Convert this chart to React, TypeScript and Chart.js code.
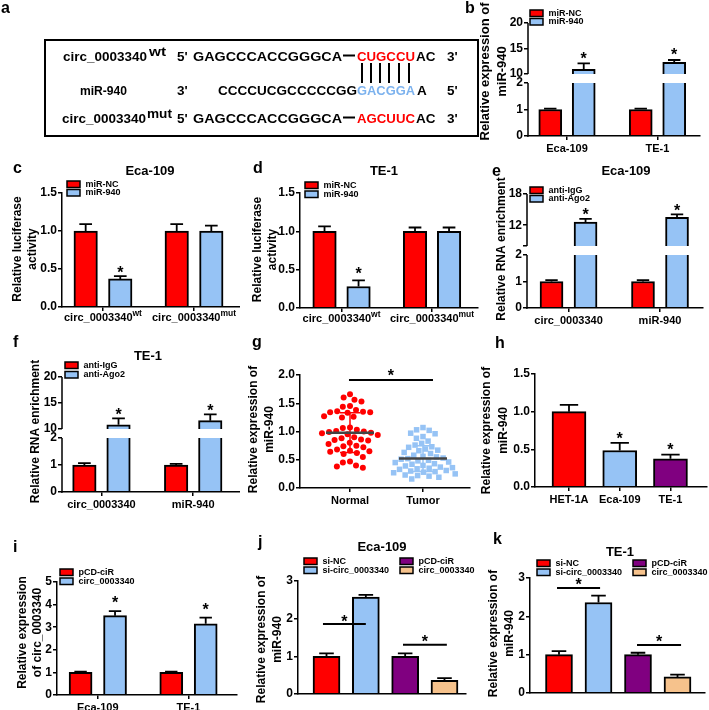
import React, { useEffect, useRef } from 'react';
import { Chart, registerables } from 'chart.js';
Chart.register(...registerables);

const FONT = '"Liberation Sans", Arial, Helvetica, sans-serif';
Chart.defaults.font.family = FONT;
Chart.defaults.color = '#000';

const RED = '#ff0000';
const BLUE = '#96c3f5';
const PURPLE = '#800080';
const TAN = '#f6c28c';
const SEQ_BLUE = '#7cb2ee';

// ---------------- data ----------------
// b
const bCats = ['Eca-109', 'TE-1'];
const bGroups = ['miR-NC', 'miR-940'];
const bNC = [1.0, 1.0];
const bNCErr = [0.03, 0.03];
const bMiR = [10.9, 12.3];
const bMiRErr = [1.2, 0.45];
// c
const cCats = ['circ_0003340', 'circ_0003340'];
const cSup = ['wt', 'mut'];
const cNC = [1.0, 1.0];
const cNCErr = [0.09, 0.09];
const cMiR = [0.37, 1.0];
const cMiRErr = [0.035, 0.07];
// d
const dNC = [1.0, 1.0];
const dNCErr = [0.065, 0.05];
const dMiR = [0.28, 1.0];
const dMiRErr = [0.08, 0.05];
// e
const eCats = ['circ_0003340', 'miR-940'];
const eGroups = ['anti-IgG', 'anti-Ago2'];
const eIgG = [1.0, 1.0];
const eIgGErr = [0.05, 0.05];
const eAgo = [12.6, 13.5];
const eAgoErr = [0.6, 0.6];
// f
const fIgG = [1.0, 1.0];
const fIgGErr = [0.07, 0.04];
const fAgo = [10.8, 11.6];
const fAgoErr = [1.25, 1.2];
// g
const gCats = ['Normal', 'Tumor'];
const gNormal = [1.66, 1.6, 1.56, 1.53, 1.45, 1.44, 1.38, 1.36, 1.35, 1.34, 1.34, 1.33, 1.27, 1.26, 1.25, 1.07, 1.06, 1.03, 1.01, 1.0, 0.99, 0.98, 0.97, 0.95, 0.94, 0.9, 0.88, 0.86, 0.85, 0.84, 0.8, 0.78, 0.75, 0.74, 0.72, 0.68, 0.66, 0.65, 0.64, 0.62, 0.6, 0.55, 0.47, 0.45, 0.4, 0.38, 0.36];
const gTumor = [1.07, 1.03, 1.02, 0.97, 0.96, 0.91, 0.88, 0.83, 0.79, 0.76, 0.73, 0.72, 0.69, 0.67, 0.66, 0.63, 0.61, 0.58, 0.56, 0.55, 0.53, 0.52, 0.51, 0.49, 0.48, 0.46, 0.45, 0.43, 0.42, 0.4, 0.39, 0.37, 0.36, 0.35, 0.34, 0.33, 0.31, 0.3, 0.29, 0.28, 0.27, 0.25, 0.23, 0.22, 0.21, 0.19, 0.16];
const gMean = [0.98, 0.52];
const gSD = [0.35, 0.23];
// h
const hCats = ['HET-1A', 'Eca-109', 'TE-1'];
const hVals = [1.0, 0.485, 0.375];
const hErr = [0.09, 0.1, 0.055];
// i
const iCats = ['Eca-109', 'TE-1'];
const iGroups = ['pCD-ciR', 'circ_0003340'];
const iCtrl = [1.0, 1.0];
const iCtrlErr = [0.03, 0.03];
const iOE = [3.51, 3.15];
const iOEErr = [0.2, 0.27];
// j, k
const jkGroups = ['si-NC', 'si-circ_0003340', 'pCD-ciR', 'circ_0003340'];
const jkColors = [RED, BLUE, PURPLE, TAN];
const jVals = [1.0, 2.57, 1.0, 0.36];
const jErr = [0.08, 0.06, 0.08, 0.06];
const kVals = [1.0, 2.36, 1.0, 0.42];
const kErr = [0.09, 0.18, 0.05, 0.06];

// ---------------- helpers ----------------
function makeT(y: any) {
  if (y.brk) {
    const b = y.brk;
    const ppu = b.lowPx / b.lowMax;
    const gap = b.gapPx / ppu;
    const k = b.upPx / (b.upMax - b.upMin) / ppu;
    const fwd = (v: number) =>
      v <= b.lowMax ? v : v < b.upMin ? b.lowMax + (gap * (v - b.lowMax)) / (b.upMin - b.lowMax) : b.lowMax + gap + (v - b.upMin) * k;
    const ticks = y.ticks;
    return { brk: b, fwd, max: fwd(b.upMax), ticks, label: (v: number) => { const t = ticks.find((t: any) => Math.abs(fwd(t[0]) - v) < 1e-6); return t ? t[1] : ''; } };
  }
  const ticks: any[] = [];
  const n = Math.round((y.max - y.min) / y.step);
  for (let i = 0; i <= n; i++) { const v = y.min + i * y.step; ticks.push([v, v.toFixed(y.dec)]); }
  return { brk: null, fwd: (v: number) => v, max: y.max, ticks, label: (v: number) => { const t = ticks.find((t: any) => Math.abs(t[0] - v) < 1e-6); return t ? t[1] : ''; } };
}

function swarm(els: any[], D: number) {
  if (!els.length) return;
  const base = els[0].x;
  const order = els.map((_: any, i: number) => i).sort((a: number, b: number) => els[a].y - els[b].y);
  const placed: { dx: number; y: number }[] = [];
  for (const i of order) {
    const y = els[i].y;
    const iv: [number, number][] = [];
    for (const p of placed) {
      const dy = Math.abs(p.y - y);
      if (dy < D) { const h = Math.sqrt(D * D - dy * dy); iv.push([p.dx - h, p.dx + h]); }
    }
    const cands = [0];
    iv.forEach(([a, b]) => cands.push(a, b));
    cands.sort((a, b) => Math.abs(a) - Math.abs(b) || a - b);
    let dx = 0;
    for (const c of cands) { if (!iv.some(([a, b]) => c > a + 1e-6 && c < b - 1e-6)) { dx = c; break; } }
    placed.push({ dx, y });
    els[i].x = base + dx;
  }
}

const bold = (sz: number) => `bold ${sz}px ${FONT}`;

function drawStar(ctx: any, x: number, cy: number) {
  ctx.font = bold(16);
  ctx.textAlign = 'center';
  ctx.textBaseline = 'alphabetic';
  ctx.fillStyle = '#000';
  ctx.fillText('*', x, cy + 9.3);
}

function decor(s: any, T: any) {
  const [cl, ct] = s.rect;
  return {
    id: 'decor',
    afterDatasetsUpdate(chart: any) {
      chart.data.datasets.forEach((ds: any, di: number) => { if (ds.swarm) swarm(chart.getDatasetMeta(di).data, ds.swarm); });
    },
    afterDatasetsDraw(chart: any) {
      const ctx = chart.ctx, ca = chart.chartArea, ys = chart.scales.y, xs = chart.scales.x;
      ctx.save();
      if (T.brk) {
        const yLow = ys.getPixelForValue(T.brk.lowMax);
        const yUp = ys.getPixelForValue(T.fwd(T.brk.upMin));
        ctx.fillStyle = '#fff';
        ctx.fillRect(ca.left + 1, yUp, ca.right - ca.left, yLow - yUp);
      }
      chart.data.datasets.forEach((ds: any, di: number) => {
        const els = chart.getDatasetMeta(di).data;
        if (ds.errors) {
          els.forEach((el: any, i: number) => {
            const top = ys.getPixelForValue(T.fwd(ds.raw[i] + ds.errors[i]));
            const hw = s.barPx * 0.27;
            ctx.strokeStyle = '#000';
            ctx.lineWidth = 1.8;
            ctx.beginPath();
            ctx.moveTo(el.x, el.y); ctx.lineTo(el.x, top);
            ctx.moveTo(el.x - hw, top); ctx.lineTo(el.x + hw, top);
            ctx.stroke();
            if (ds.stars.includes(i)) drawStar(ctx, el.x, top - s.starGap);
          });
        }
        if (ds.mean !== undefined) {
          const cx = xs.getPixelForValue(di);
          const m = ys.getPixelForValue(ds.mean), a = ys.getPixelForValue(ds.mean + ds.sd), b = ys.getPixelForValue(ds.mean - ds.sd);
          ctx.strokeStyle = ds.gcolor; ctx.lineWidth = 1.5;
          ctx.beginPath();
          ctx.moveTo(cx, a); ctx.lineTo(cx, b);
          ctx.moveTo(cx - 10, a); ctx.lineTo(cx + 10, a);
          ctx.moveTo(cx - 10, b); ctx.lineTo(cx + 10, b);
          ctx.stroke();
          ctx.strokeStyle = '#444'; ctx.lineWidth = 2.5;
          ctx.beginPath(); ctx.moveTo(cx - 24, m); ctx.lineTo(cx + 24, m); ctx.stroke();
        }
      });
      ctx.restore();
    },
    afterDraw(chart: any) {
      const ctx = chart.ctx, ca = chart.chartArea, ys = chart.scales.y, xs = chart.scales.x;
      ctx.save();
      ctx.strokeStyle = '#000'; ctx.fillStyle = '#000';
      if (T.brk) {
        ctx.lineWidth = 1.5;
        ctx.beginPath();
        ctx.moveTo(ca.left, ca.bottom + 0.75); ctx.lineTo(ca.left, ys.getPixelForValue(T.brk.lowMax));
        ctx.moveTo(ca.left, ys.getPixelForValue(T.fwd(T.brk.upMin))); ctx.lineTo(ca.left, ca.top);
        ctx.stroke();
      }
      const cy = (ca.top + ca.bottom) / 2 + (s.yTitleDy || 0);
      ctx.font = bold(s.yTitleSize || 12);
      ctx.textAlign = 'center'; ctx.textBaseline = 'middle';
      s.yTitle.forEach((line: string, k: number) => {
        ctx.save(); ctx.translate(s.yTitleX[k] - cl, cy); ctx.rotate(-Math.PI / 2); ctx.fillText(line, 0, 0); ctx.restore();
      });
      if (s.title) { ctx.font = bold(13); ctx.fillText(s.title[0], s.title[1] - cl, s.title[2] - ct); }
      (s.legends || []).forEach((L: any) => {
        L.items.forEach((it: any, j: number) => {
          const x = L.x - cl, y = L.y + j * L.rowH - ct;
          ctx.fillStyle = it[1]; ctx.fillRect(x, y, 13, 6.5);
          ctx.strokeStyle = '#000'; ctx.lineWidth = 1.5; ctx.strokeRect(x, y, 13, 6.5);
          ctx.fillStyle = '#000'; ctx.font = bold(9); ctx.textAlign = 'left'; ctx.textBaseline = 'middle';
          ctx.fillText(it[0], x + 18.5, y + 3.5);
        });
      });
      if (s.sup) {
        s.cats.forEach((c: string, i: number) => {
          const px = xs.getPixelForValue(i);
          ctx.font = bold(11); const w1 = ctx.measureText(c).width;
          ctx.font = bold(8.5); const w2 = ctx.measureText(s.sup[i]).width;
          const x = px - (w1 + w2) / 2, y = ca.bottom + 11;
          ctx.textAlign = 'left'; ctx.textBaseline = 'middle'; ctx.fillStyle = '#000';
          ctx.font = bold(11); ctx.fillText(c, x, y);
          ctx.font = bold(8.5); ctx.fillText(s.sup[i], x + w1, y - 4);
        });
      }
      (s.sig || []).forEach((g: any) => {
        const x0 = xs.getPixelForValue(g.x0), x1 = xs.getPixelForValue(g.x1), y = ys.getPixelForValue(T.fwd(g.y));
        ctx.strokeStyle = '#000'; ctx.lineWidth = 2;
        ctx.beginPath(); ctx.moveTo(x0, y); ctx.lineTo(x1, y); ctx.stroke();
        drawStar(ctx, (x0 + x1) / 2, y - (g.gap || 7));
      });
      ctx.restore();
    },
  };
}

function buildConfig(s: any) {
  const T = makeT(s.y);
  const [cl, ct, cw, ch] = s.rect;
  const [ax0, ay0, ax1, ay1] = s.area;
  const datasets: any[] = [];
  (s.bars || []).forEach((b: any) =>
    datasets.push({
      type: 'bar', label: b.label,
      data: b.values.map((v: number, i: number) => ({ x: i + b.off, y: T.fwd(v) })),
      backgroundColor: b.color, borderColor: '#000', borderWidth: 2, borderSkipped: 'start',
      barThickness: s.barPx, grouped: false,
      raw: b.values, errors: b.errors, stars: b.stars || [],
    })
  );
  (s.scatter || []).forEach((g: any, gi: number) =>
    datasets.push({
      type: 'scatter', label: g.label,
      data: g.values.map((v: number) => ({ x: gi, y: v })),
      pointStyle: g.style, pointRadius: g.r, backgroundColor: g.color, borderWidth: 0,
      swarm: g.D, mean: g.mean, sd: g.sd, gcolor: g.color,
    })
  );
  const grid = { display: true, drawOnChartArea: false, drawTicks: true, tickLength: 4, color: '#000', lineWidth: 1.5, offset: false };
  return {
    type: s.scatter ? 'scatter' : 'bar',
    data: { datasets },
    options: {
      responsive: false, animation: false, events: [],
      layout: { padding: { left: 0, top: ay0 - ct, right: cl + cw - ax1, bottom: 0 } },
      plugins: { legend: { display: false }, tooltip: { enabled: false }, title: { display: false } },
      scales: {
        x: {
          type: 'linear', min: s.xr[0], max: s.xr[1], offset: false,
          afterBuildTicks: (sc: any) => { sc.ticks = s.cats.map((_: any, i: number) => ({ value: i })); },
          afterFit: (sc: any) => { sc.height = ct + ch - ay1; },
          ticks: {
            display: s.cats.length > 0 && !s.sup, autoSkip: false, maxRotation: 0, minRotation: 0, padding: 2,
            font: { size: 11, weight: 'bold' }, color: '#000',
            callback: (v: number) => s.cats[Math.round(v)] ?? '',
          },
          grid: { ...grid, drawTicks: s.cats.length > 0 },
          border: { display: true, color: '#000', width: 1.5, z: 1 },
        },
        y: {
          type: 'linear', min: 0, max: T.max,
          afterBuildTicks: (sc: any) => { sc.ticks = T.ticks.map((t: any) => ({ value: T.fwd(t[0]) })); },
          afterFit: (sc: any) => { sc.width = ax0 - cl; },
          ticks: { autoSkip: false, padding: 1, font: { size: 12, weight: 'bold' }, color: '#000', callback: (v: number) => T.label(v) },
          grid,
          border: { display: !T.brk, color: '#000', width: 1.5, z: 1 },
        },
      },
    },
    plugins: [decor(s, T)],
  };
}

// ---------------- panel specs ----------------
const specs: any[] = [
  { // b
    rect: [476, 0, 233, 160], area: [528, 23, 700, 136], xr: [-0.431, 1.47], cats: bCats, barPx: 23,
    bars: [
      { label: bGroups[0], color: RED, values: bNC, errors: bNCErr, stars: [], off: -0.185 },
      { label: bGroups[1], color: BLUE, values: bMiR, errors: bMiRErr, stars: [0, 1], off: 0.185 },
    ],
    y: { brk: { lowMax: 2, upMin: 10, upMax: 20, lowPx: 53, gapPx: 9, upPx: 51 }, ticks: [[0, '0'], [1, '1'], [2, '2'], [10, '10'], [15, '15'], [20, '20']] },
    yTitle: ['Relative expression of', 'miR-940'], yTitleX: [485, 502], yTitleDy: -8, yTitleSize: 13,
    legends: [{ x: 530, y: 10, rowH: 8.5, items: [[bGroups[0], RED], [bGroups[1], BLUE]] }],
    starGap: 9,
  },
  { // c
    rect: [0, 160, 240, 170], area: [62, 193, 240, 307], xr: [-0.45, 1.505], cats: cCats, sup: cSup, barPx: 23.5,
    bars: [
      { label: 'miR-NC', color: RED, values: cNC, errors: cNCErr, stars: [], off: -0.19 },
      { label: 'miR-940', color: BLUE, values: cMiR, errors: cMiRErr, stars: [0], off: 0.19 },
    ],
    y: { min: 0, max: 1.5, step: 0.5, dec: 1 },
    yTitle: ['Relative luciferase', 'activity'], yTitleX: [17.5, 33], yTitleDy: -1,
    title: ['Eca-109', 150, 171],
    legends: [{ x: 67, y: 181, rowH: 8.5, items: [['miR-NC', RED], ['miR-940', BLUE]] }],
    starGap: 8,
  },
  { // d
    rect: [240, 160, 240, 170], area: [300, 193, 478, 308], xr: [-0.459, 1.508], cats: cCats, sup: cSup, barPx: 23.5,
    bars: [
      { label: 'miR-NC', color: RED, values: dNC, errors: dNCErr, stars: [], off: -0.188 },
      { label: 'miR-940', color: BLUE, values: dMiR, errors: dMiRErr, stars: [0], off: 0.188 },
    ],
    y: { min: 0, max: 1.5, step: 0.5, dec: 1 },
    yTitle: ['Relative luciferase', 'activity'], yTitleX: [257.5, 273], yTitleDy: -1,
    title: ['TE-1', 384, 171],
    legends: [{ x: 305, y: 182, rowH: 9, items: [['miR-NC', RED], ['miR-940', BLUE]] }],
    starGap: 11,
  },
  { // e
    rect: [476, 160, 233, 170], area: [527, 194, 703, 308], xr: [-0.454, 1.47], cats: eCats, barPx: 23,
    bars: [
      { label: eGroups[0], color: RED, values: eIgG, errors: eIgGErr, stars: [], off: -0.186 },
      { label: eGroups[1], color: BLUE, values: eAgo, errors: eAgoErr, stars: [0, 1], off: 0.186 },
    ],
    y: { brk: { lowMax: 2, upMin: 8, upMax: 18, lowPx: 53, gapPx: 9, upPx: 52 }, ticks: [[0, '0'], [1, '1'], [2, '2'], [8, ''], [12, '12'], [18, '18']] },
    yTitle: ['Relative RNA enrichment'], yTitleX: [502], yTitleDy: -2,
    title: ['Eca-109', 626, 171],
    legends: [{ x: 530, y: 187, rowH: 8.5, items: [[eGroups[0], RED], [eGroups[1], BLUE]] }],
    starGap: 8,
  },
  { // f
    rect: [0, 345, 240, 175], area: [62, 377, 240, 492], xr: [-0.43, 1.51], cats: eCats, barPx: 23.5,
    bars: [
      { label: eGroups[0], color: RED, values: fIgG, errors: fIgGErr, stars: [], off: -0.186 },
      { label: eGroups[1], color: BLUE, values: fAgo, errors: fAgoErr, stars: [0, 1], off: 0.186 },
    ],
    y: { brk: { lowMax: 2, upMin: 10, upMax: 20, lowPx: 54, gapPx: 9, upPx: 52 }, ticks: [[0, '0'], [1, '1'], [2, '2'], [10, '10'], [15, '15'], [20, '20']] },
    yTitle: ['Relative RNA enrichment'], yTitleX: [36], yTitleDy: -3,
    title: ['TE-1', 148, 356],
    legends: [{ x: 65, y: 362, rowH: 9.5, items: [[eGroups[0], RED], [eGroups[1], BLUE]] }],
    starGap: 8,
  },
  { // g
    rect: [240, 345, 240, 175], area: [300, 375, 470, 488], xr: [-0.685, 1.644], cats: gCats,
    scatter: [
      { label: gCats[0], values: gNormal, color: RED, style: 'circle', r: 3, D: 7.2, mean: gMean[0], sd: gSD[0] },
      { label: gCats[1], values: gTumor, color: BLUE, style: 'rect', r: 3.9, D: 6.8, mean: gMean[1], sd: gSD[1] },
    ],
    y: { min: 0, max: 2, step: 0.5, dec: 1 },
    yTitle: ['Relative expression of', 'miR-940'], yTitleX: [254, 270], yTitleDy: -2,
    sig: [{ x0: -0.014, x1: 1.137, y: 1.91, gap: 8 }],
  },
  { // h
    rect: [476, 345, 233, 175], area: [535, 374, 707, 487], xr: [-0.67, 2.72], cats: hCats, barPx: 34,
    bars: [{ label: 'miR-940', color: [RED, BLUE, PURPLE], values: hVals, errors: hErr, stars: [1, 2], off: 0 }],
    y: { min: 0, max: 1.5, step: 0.5, dec: 1 },
    yTitle: ['Relative expression of', 'miR-940'], yTitleX: [487, 504], yTitleDy: 0,
    starGap: 8.5,
  },
  { // i
    rect: [0, 545, 240, 165], area: [57, 582, 237, 695], xr: [-0.45, 1.535], cats: iCats, barPx: 23,
    bars: [
      { label: iGroups[0], color: RED, values: iCtrl, errors: iCtrlErr, stars: [], off: -0.19 },
      { label: iGroups[1], color: BLUE, values: iOE, errors: iOEErr, stars: [0, 1], off: 0.19 },
    ],
    y: { min: 0, max: 5, step: 1, dec: 0 },
    yTitle: ['Relative expression', 'of circ_0003340'], yTitleX: [23, 38], yTitleDy: -6,
    legends: [{ x: 60, y: 569, rowH: 9, items: [[iGroups[0], RED], [iGroups[1], BLUE]] }],
    starGap: 12,
  },
  { // j
    rect: [240, 540, 240, 170], area: [298, 581, 466, 694], xr: [-0.725, 3.547], cats: [], barPx: 27,
    bars: [{ label: 'miR-940', color: jkColors, values: jVals, errors: jErr, stars: [], off: 0 }],
    y: { min: 0, max: 3, step: 1, dec: 0 },
    yTitle: ['Relative expression of', 'miR-940'], yTitleX: [262, 278], yTitleDy: 2,
    title: ['Eca-109', 382, 547],
    legends: [
      { x: 304, y: 558, rowH: 9, items: [[jkGroups[0], jkColors[0]], [jkGroups[1], jkColors[1]]] },
      { x: 400, y: 558, rowH: 9, items: [[jkGroups[2], jkColors[2]], [jkGroups[3], jkColors[3]]] },
    ],
    sig: [{ x0: -0.09, x1: 1.0, y: 1.86, gap: 6 }, { x0: 1.945, x1: 3.06, y: 1.31, gap: 7 }],
  },
  { // k
    rect: [476, 540, 233, 170], area: [530, 578, 705, 693], xr: [-0.734, 3.696], cats: [], barPx: 27,
    bars: [{ label: 'miR-940', color: jkColors, values: kVals, errors: kErr, stars: [], off: 0 }],
    y: { min: 0, max: 3, step: 1, dec: 0 },
    yTitle: ['Relative expression of', 'miR-940'], yTitleX: [494, 510], yTitleDy: -2,
    title: ['TE-1', 620, 552],
    legends: [
      { x: 537, y: 560, rowH: 9, items: [[jkGroups[0], jkColors[0]], [jkGroups[1], jkColors[1]]] },
      { x: 633, y: 560, rowH: 9, items: [[jkGroups[2], jkColors[2]], [jkGroups[3], jkColors[3]]] },
    ],
    sig: [{ x0: -0.05, x1: 1.04, y: 2.74, gap: 7 }, { x0: 1.975, x1: 3.09, y: 1.25, gap: 7 }],
  },
];

function Panel({ spec }: { spec: any }) {
  const ref = useRef<HTMLCanvasElement>(null);
  useEffect(() => {
    const chart = new Chart(ref.current as any, buildConfig(spec) as any);
    return () => chart.destroy();
  }, [spec]);
  const [l, t, w, h] = spec.rect;
  return (
    <div style={{ position: 'absolute', left: l, top: t, width: w, height: h }}>
      <canvas ref={ref} width={w} height={h} style={{ display: 'block', width: w, height: h }} />
    </div>
  );
}

const letters: [string, number, number][] = [
  ['a', 1, 13], ['b', 465, 13], ['c', 13, 173], ['d', 253, 173], ['e', 492, 176], ['f', 13, 347],
  ['g', 252, 347], ['h', 495, 348], ['i', 13, 552], ['j', 258, 547], ['k', 493, 544],
];

function Overlay() {
  const fs = 13.5;
  const T = (x: number, y: number, str: string, len?: number, fill = '#000') => (
    <text x={x} y={y} fill={fill} fontSize={fs} {...(len ? { textLength: len, lengthAdjust: 'spacingAndGlyphs' } : {})}>{str}</text>
  );
  const bonds = [362, 371, 380, 389, 399, 409];
  return (
    <svg width={709} height={710} style={{ position: 'absolute', left: 0, top: 0, pointerEvents: 'none' }} fontFamily={FONT} fontWeight="bold">
      {letters.map(([l, x, y]) => <text key={l} x={x} y={y} fontSize={16}>{l}</text>)}
      <rect x={45} y={40} width={433} height={96} fill="none" stroke="#000" strokeWidth={2} />
      {/* row 1 */}
      {T(63, 61, 'circ_0003340', 84)}
      {T(149, 56, 'wt', 17)}
      {T(177, 61, "5'")}
      {T(193, 61, 'GAGCCCACCGGGCA', 149)}
      <line x1={343} y1={55.5} x2={355} y2={55.5} stroke="#000" strokeWidth={2} />
      {T(357, 61, 'CUGCCU', 58, RED)}
      {T(416, 61, 'AC')}
      {T(447, 61, "3'")}
      {bonds.map((x) => <line key={x} x1={x} y1={63} x2={x} y2={83} stroke="#000" strokeWidth={2} />)}
      {/* row 2 */}
      {T(80, 95, 'miR-940', 47)}
      {T(177, 95, "3'")}
      {T(218, 95, 'CCCCUCGCCCCCGG', 139)}
      {T(357, 95, 'GACGGA', 58, SEQ_BLUE)}
      {T(417, 95, 'A')}
      {T(447, 95, "5'")}
      {/* row 3 */}
      {T(62, 123, 'circ_0003340', 84)}
      {T(147, 118, 'mut', 25)}
      {T(177, 123, "5'")}
      {T(193, 123, 'GAGCCCACCGGGCA', 149)}
      <line x1={343} y1={117.5} x2={355} y2={117.5} stroke="#000" strokeWidth={2} />
      {T(357, 123, 'AGCUUC', 58, RED)}
      {T(416, 123, 'AC')}
      {T(447, 123, "3'")}
    </svg>
  );
}

export default function App() {
  return (
    <div style={{ position: 'absolute', left: 0, top: 0, width: 709, height: 710, background: '#fff', overflow: 'hidden' }}>
      {specs.map((s, i) => <Panel key={i} spec={s} />)}
      <Overlay />
    </div>
  );
}
